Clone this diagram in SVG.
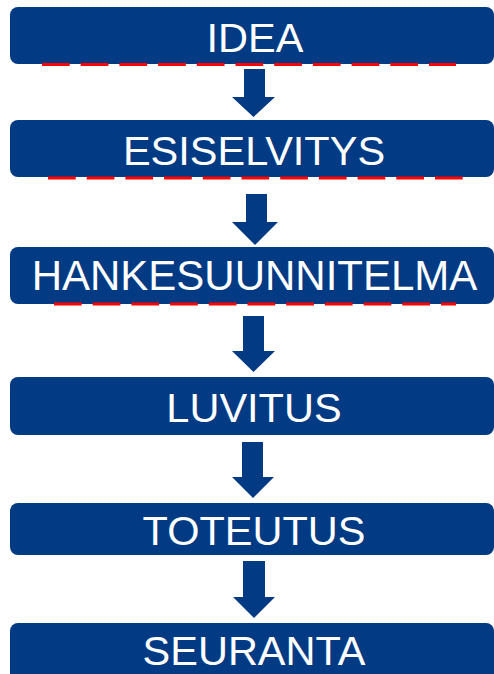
<svg xmlns="http://www.w3.org/2000/svg" width="494" height="674" viewBox="0 0 494 674">
<style>
.box{fill:#023a83}
.lbl{fill:#ffffff;font-family:"Liberation Sans",Arial,sans-serif;font-size:41.5px;text-anchor:middle}
.dash{stroke:#ff0000;stroke-width:3;stroke-dasharray:27.7 11;fill:none}
.arr{fill:#023a83}
</style>
<rect width="494" height="674" fill="#ffffff"/>
<g id="n1"><rect class="box" x="10" y="7" width="484" height="57" rx="8"/><text class="lbl" x="255" y="52">IDEA</text><line class="dash" x1="42" y1="64.5" x2="456" y2="64.5"/></g>
<g id="n2"><rect class="box" x="10" y="120" width="484" height="57" rx="8"/><text class="lbl" x="254" y="165">ESISELVITYS</text><line class="dash" x1="48" y1="178" x2="463" y2="178"/></g>
<g id="n3"><rect class="box" x="10" y="247" width="484" height="57" rx="8"/><text class="lbl" x="254.5" y="290" style="font-size:42px">HANKESUUNNITELMA</text><line class="dash" x1="54" y1="304" x2="456" y2="304"/></g>
<g id="n4"><rect class="box" x="10" y="377" width="484" height="58" rx="8"/><text class="lbl" x="254" y="422">LUVITUS</text></g>
<g id="n5"><rect class="box" x="10" y="503" width="484" height="52" rx="8"/><text class="lbl" x="254" y="545">TOTEUTUS</text></g>
<g id="n6"><rect class="box" x="10" y="623" width="484" height="60" rx="8"/><text class="lbl" x="254" y="665">SEURANTA</text></g>
<g id="connectors">
<polygon class="arr" points="244,69 265,69 265,97 275,97 253.5,117 232,97 244,97"/>
<polygon class="arr" points="246,194 267,194 267,222 278,222 255,245 232,222 246,222"/>
<polygon class="arr" points="243,316 264,316 264,351 275,351 253.5,372 232,351 243,351"/>
<polygon class="arr" points="242,442 263,442 263,477 274,477 253,498 232,477 242,477"/>
<polygon class="arr" points="243,561 265,561 265,597 275,597 254,618 233,597 243,597"/>
</g>
</svg>
